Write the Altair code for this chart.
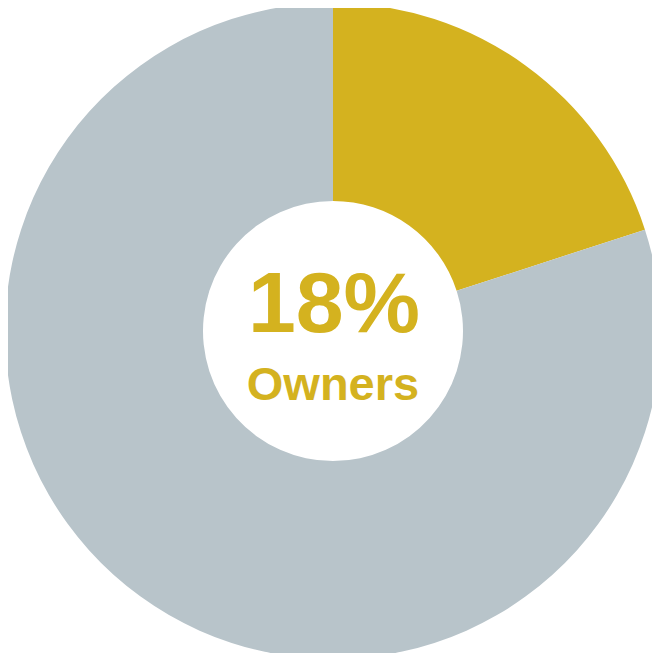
import altair as alt
import pandas as pd

categories = ["Owners", "Non-owners"]
values = [20, 80]
colors = ["#D4B21F", "#B8C4CA"]
center_value = ["18%"]
center_label = ["Owners"]

df = pd.DataFrame({"cat": categories, "value": values, "order": [0, 1]})

base = alt.Chart(df)

donut = base.mark_arc(innerRadius=130, outerRadius=328, stroke=None).encode(
    theta=alt.Theta("value:Q", stack=True),
    color=alt.Color("cat:N", scale=alt.Scale(domain=categories, range=colors), legend=None),
    order=alt.Order("order:Q"),
    x=alt.value(325),
    y=alt.value(323),
)

t1 = alt.Chart(pd.DataFrame({"t": center_value})).mark_text(
    font="Liberation Sans", fontWeight="bold", fontSize=86, color="#D4B21F",
    align="center", baseline="alphabetic"
).encode(text="t:N", x=alt.value(326), y=alt.value(324))

t2 = alt.Chart(pd.DataFrame({"t": center_label})).mark_text(
    font="Liberation Sans", fontWeight="bold", fontSize=47, color="#D4B21F",
    align="center", baseline="alphabetic"
).encode(text="t:N", x=alt.value(325), y=alt.value(392))

chart = alt.layer(donut, t1, t2).properties(
    width=644, height=645, autosize=alt.AutoSizeParams(type="none"), padding=0
).configure_view(stroke=None)

chart.save("out.html", embed_options={"renderer": "svg", "actions": False})
